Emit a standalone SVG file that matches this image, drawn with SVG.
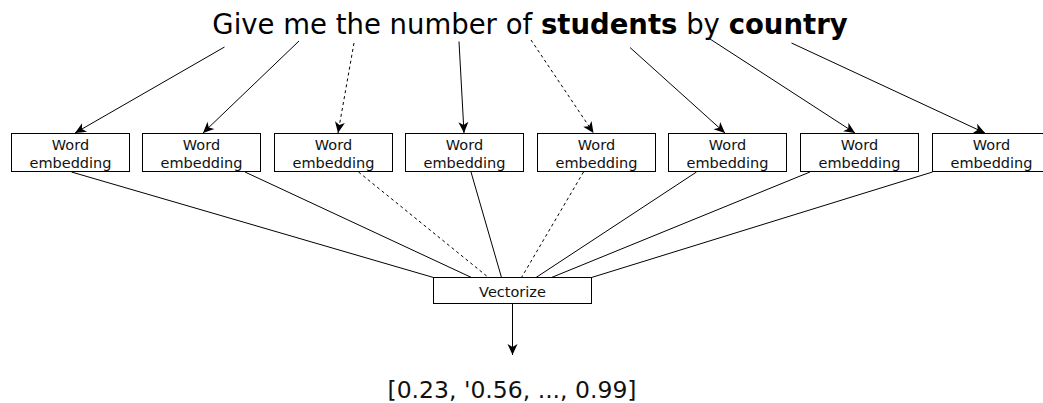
<svg xmlns="http://www.w3.org/2000/svg" width="1043" height="403" viewBox="0 0 1043 403">
  <style>
    .box { fill: #ffffff; stroke: #000000; stroke-width: 1; }
    .lbl { font-family: "DejaVu Sans", Verdana, sans-serif; font-size: 14.5px; fill: #111111; text-anchor: middle; }
    .title { font-family: "DejaVu Sans", Verdana, sans-serif; font-size: 27.5px; fill: #000000; text-anchor: middle; }
    .out { font-family: "DejaVu Sans", Verdana, sans-serif; font-size: 23.5px; fill: #111111; text-anchor: middle; }
    .edge { fill: none; stroke: #000000; stroke-width: 1; }
    .dash { stroke-dasharray: 3 3; }
  </style>
  <defs>
    <marker id="arrow" markerUnits="userSpaceOnUse" viewBox="-12 -6 13 12" refX="0" refY="0" markerWidth="13" markerHeight="12" orient="auto">
      <path d="M -11 -5 L 0 0 L -11 5 L -8 0 Z" fill="#000000" stroke="none"/>
    </marker>
  </defs>

  <!-- sentence -->
  <g id="sentence">
    <text class="title" x="530" y="34">Give me the number of <tspan font-weight="bold">students</tspan> by <tspan font-weight="bold">country</tspan></text>
  </g>

  <!-- per-word embedding nodes -->
  <g id="emb1"><rect class="box" x="11.5" y="133.5" width="118" height="38"/><text class="lbl" x="70.5" y="150">Word</text><text class="lbl" x="70.5" y="168">embedding</text></g>
  <g id="emb2"><rect class="box" x="142.5" y="133.5" width="118" height="38"/><text class="lbl" x="201.5" y="150">Word</text><text class="lbl" x="201.5" y="168">embedding</text></g>
  <g id="emb3"><rect class="box" x="274.5" y="133.5" width="118" height="38"/><text class="lbl" x="333.5" y="150">Word</text><text class="lbl" x="333.5" y="168">embedding</text></g>
  <g id="emb4"><rect class="box" x="405.5" y="133.5" width="118" height="38"/><text class="lbl" x="464.5" y="150">Word</text><text class="lbl" x="464.5" y="168">embedding</text></g>
  <g id="emb5"><rect class="box" x="537.5" y="133.5" width="118" height="38"/><text class="lbl" x="596.5" y="150">Word</text><text class="lbl" x="596.5" y="168">embedding</text></g>
  <g id="emb6"><rect class="box" x="668.5" y="133.5" width="118" height="38"/><text class="lbl" x="727.5" y="150">Word</text><text class="lbl" x="727.5" y="168">embedding</text></g>
  <g id="emb7"><rect class="box" x="800.5" y="133.5" width="118" height="38"/><text class="lbl" x="859.5" y="150">Word</text><text class="lbl" x="859.5" y="168">embedding</text></g>
  <g id="emb8"><rect class="box" x="932.5" y="133.5" width="118" height="38"/><text class="lbl" x="991.5" y="150">Word</text><text class="lbl" x="991.5" y="168">embedding</text></g>

  <!-- pooling node -->
  <g id="vectorize"><rect class="box" x="433.5" y="277.5" width="158" height="26"/><text class="lbl" x="512.5" y="297">Vectorize</text></g>

  <!-- resulting vector -->
  <g id="result"><text class="out" x="512" y="398">[0.23, '0.56, ..., 0.99]</text></g>

  <!-- connectors -->
  <g id="connectors">
    <!-- words to embeddings -->
    <line class="edge" x1="224.5" y1="47" x2="75" y2="133" marker-end="url(#arrow)"/>
    <line class="edge" x1="299" y1="41" x2="203" y2="133" marker-end="url(#arrow)"/>
    <line class="edge dash" x1="354" y1="43" x2="338" y2="133" marker-end="url(#arrow)"/>
    <line class="edge" x1="459" y1="41.5" x2="464" y2="133" marker-end="url(#arrow)"/>
    <line class="edge dash" x1="531" y1="40" x2="593.5" y2="133" marker-end="url(#arrow)"/>
    <line class="edge" x1="630" y1="47.5" x2="725" y2="133" marker-end="url(#arrow)"/>
    <line class="edge" x1="710" y1="39" x2="855" y2="133" marker-end="url(#arrow)"/>
    <line class="edge" x1="791.5" y1="43" x2="985" y2="133" marker-end="url(#arrow)"/>
    <!-- embeddings to vectorize -->
    <line class="edge" x1="71.5" y1="172" x2="433.5" y2="277.5"/>
    <line class="edge" x1="245" y1="172" x2="471.5" y2="277.5"/>
    <line class="edge dash" x1="358.5" y1="172" x2="488.5" y2="277.5"/>
    <line class="edge" x1="471" y1="172" x2="501.5" y2="277.5"/>
    <line class="edge dash" x1="583.5" y1="172" x2="521.5" y2="277.5"/>
    <line class="edge" x1="696.5" y1="172" x2="536" y2="277.5"/>
    <line class="edge" x1="810" y1="172" x2="551.5" y2="277.5"/>
    <line class="edge" x1="932.5" y1="172" x2="591.5" y2="277.5"/>
    <!-- vectorize to output -->
    <line class="edge" x1="512.5" y1="304" x2="512.5" y2="355" marker-end="url(#arrow)"/>
  </g>
</svg>
